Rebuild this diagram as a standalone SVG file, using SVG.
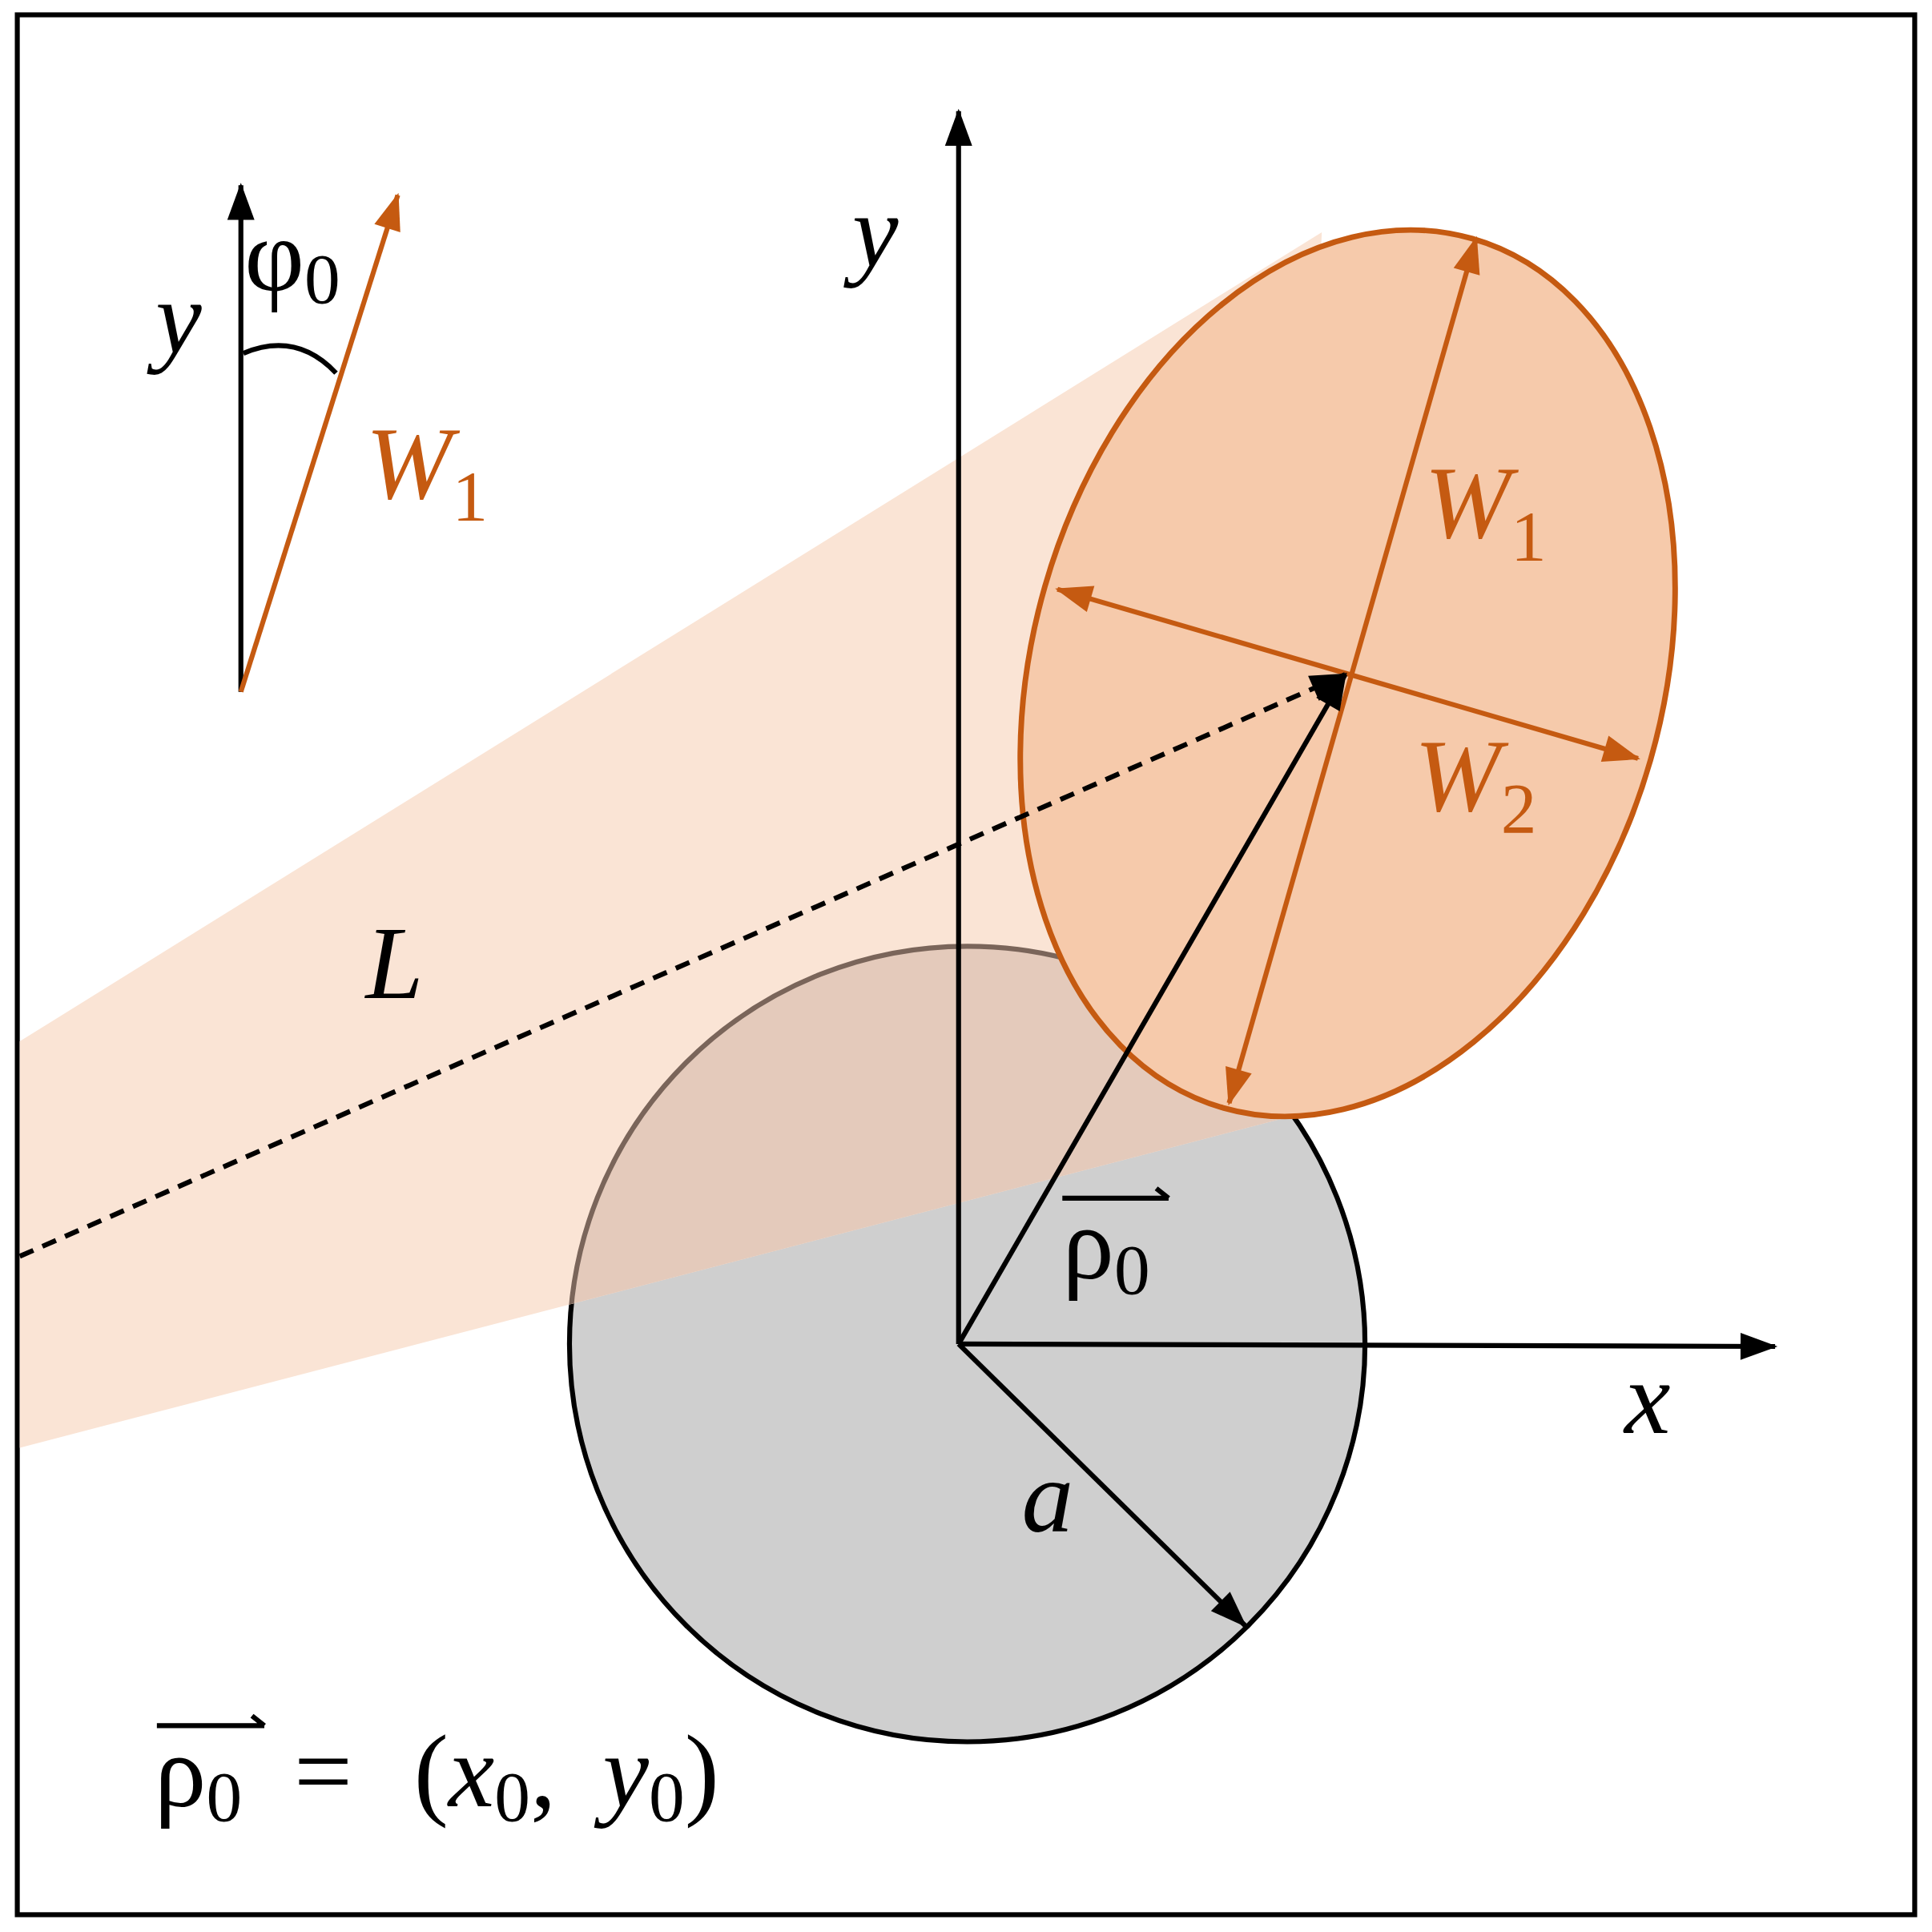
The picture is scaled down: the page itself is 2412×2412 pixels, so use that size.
<svg xmlns="http://www.w3.org/2000/svg" width="2412" height="2412" viewBox="0 0 2412 2412">
<style>
.t{font-family:"Liberation Serif","DejaVu Serif",serif;font-style:italic;font-size:84px}
.u{font-family:"Liberation Serif","DejaVu Serif",serif;font-size:84px}
.s{font-family:"Liberation Serif","DejaVu Serif",serif;font-size:58px;font-style:normal}
.o{fill:#c55a11}
.k{stroke:#000;stroke-width:4;fill:none}
.r{stroke:#c55a11;stroke-width:4;fill:none}
</style>
<defs>
<marker id="ak" refX="0" refY="0" markerWidth="10" markerHeight="10" orient="auto-start-reverse" markerUnits="userSpaceOnUse" style="overflow:visible"><path d="M-28,-11L2,0L-28,11z" fill="#000"/></marker>
<marker id="ao" refX="0" refY="0" markerWidth="10" markerHeight="10" orient="auto-start-reverse" markerUnits="userSpaceOnUse" style="overflow:visible"><path d="M-28,-11L2,0L-28,11z" fill="#c55a11"/></marker>
<clipPath id="cc"><circle cx="783" cy="1088" r="322"/></clipPath>
<clipPath id="bc"><polygon points="16,843 1070,188 1040,905 16,1172"/></clipPath>
</defs>
<rect x="0" y="0" width="2412" height="2412" fill="#fff"/>
<g transform="scale(1.5422)">
<rect x="14" y="12" width="1536" height="1538" fill="none" stroke="#000" stroke-width="4"/>
<g id="circle"><circle cx="783" cy="1088" r="322" fill="#cfcfcf" stroke="#000" stroke-width="4"/></g>
<g id="beam"><polygon points="16,843 1070,188 1040,905 16,1172" fill="#fae4d5"/>
<polygon points="16,843 1070,188 1040,905 16,1172" fill="#e4cabb" clip-path="url(#cc)"/>
<circle cx="783" cy="1088" r="322" fill="none" stroke="#7a655a" stroke-width="4" clip-path="url(#bc)"/></g>
<g id="ellipse"><ellipse cx="1091" cy="545" rx="255" ry="366" transform="rotate(16 1091 545)" fill="#f6caab" stroke="#c55a11" stroke-width="4.5"/></g>
<g id="connectors">
<line class="r" x1="995" y1="893" x2="1195" y2="193" marker-start="url(#ao)" marker-end="url(#ao)"/>
<line class="r" x1="856" y1="477" x2="1326" y2="614" marker-start="url(#ao)" marker-end="url(#ao)"/>
<line class="k" x1="16" y1="1017" x2="1089" y2="546" stroke-dasharray="12,8" marker-end="url(#ak)"/>
<line class="k" x1="776" y1="1088" x2="776" y2="90" marker-end="url(#ak)"/>
<line class="k" x1="776" y1="1088" x2="1437" y2="1090" marker-end="url(#ak)"/>
<line class="k" x1="776" y1="1088" x2="1089" y2="546" marker-end="url(#ak)"/>
<line class="k" x1="776" y1="1088" x2="1008" y2="1316" marker-end="url(#ak)"/>
<line class="k" x1="195" y1="560" x2="195" y2="150" marker-end="url(#ak)"/>
<line class="r" x1="195" y1="560" x2="322" y2="158" marker-end="url(#ao)"/>
<path class="k" d="M197,286 Q240,268 272,302" stroke-width="2.5"/>
<path class="k" d="M860,970 H946 M936,962 L946,970" stroke-width="3"/>
<path class="k" d="M127,1397 H214 M204,1389 L214,1397" stroke-width="3"/>
</g>
<g id="labels">
<text class="t" x="690" y="215">y</text>
<text class="t" x="126" y="285">y</text>
<text class="u" x="198" y="235">φ<tspan class="s" dy="10">0</tspan></text>
<text class="t o" x="296" y="403">W<tspan class="s" dy="18">1</tspan></text>
<text class="t o" x="1153" y="435">W<tspan class="s" dy="18">1</tspan></text>
<text class="t o" x="1145" y="656">W<tspan class="s" dy="18">2</tspan></text>
<text class="t" x="296" y="808">L</text>
<text class="u" x="860" y="1035">ρ<tspan class="s" dy="12">0</tspan></text>
<text class="t" x="1315" y="1160">x</text>
<text class="t" x="827" y="1240">a</text>
<text class="u" x="125" y="1462">ρ<tspan class="s" dy="12">0</tspan><tspan x="238" dy="-12">=</tspan><tspan x="335">(</tspan><tspan font-style="italic">x</tspan><tspan class="s" dy="12">0</tspan><tspan dy="-12">,</tspan><tspan x="488" font-style="italic">y</tspan><tspan class="s" dy="12">0</tspan><tspan dy="-12">)</tspan></text>
</g>
</g>
</svg>
